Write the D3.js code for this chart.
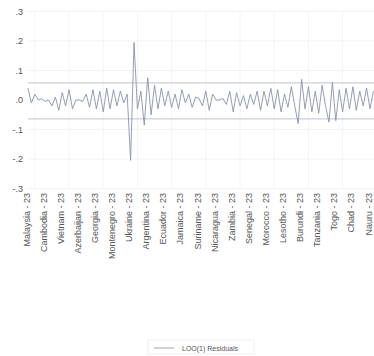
<!DOCTYPE html>
<html>
<head>
<meta charset="utf-8">
<script src="https://cdn.jsdelivr.net/npm/d3@7"></script>
<style>
  body { margin: 0; background: #fff; }
  svg text { font-family: "Liberation Sans Narrow", "Liberation Sans", Arial, sans-serif; fill: #555; }
</style>
</head>
<body>
<figure id="residPlot" style="margin:0"></figure>
<script>
// labelled categories (one every 5 observations)
const tickLabels = ["Malaysia - 23", "Cambodia - 23", "Vietnam - 23", "Azerbaijan - 23", "Georgia - 23",
  "Montenegro - 23", "Ukraine - 23", "Argentina - 23", "Ecuador - 23", "Jamaica - 23", "Suriname - 23",
  "Nicaragua - 23", "Zambia - 23", "Senegal - 23", "Morocco - 23", "Lesotho - 23", "Burundi - 23",
  "Tanzania - 23", "Togo - 23", "Chad - 23", "Nauru - 23"];
const labelStep = 5;

const residuals = [
  0.04, -0.01, 0.02, 0.0, 0.005, -0.005, 0.0, -0.02, 0.01, -0.035,
  0.025, -0.02, 0.035, -0.03, 0.0, 0.0, -0.005, 0.02, -0.025, 0.035,
  -0.03, 0.03, -0.04, 0.04, -0.03, 0.035, -0.02, 0.03, -0.01, 0.02,
  -0.205, 0.195, -0.03, 0.03, -0.085, 0.075, -0.05, 0.05, -0.03, 0.04,
  -0.02, 0.03, -0.025, 0.02, -0.03, 0.035, -0.01, 0.02, -0.025, 0.01,
  0.005, -0.02, 0.03, -0.035, 0.02, 0.0, 0.0, 0.005, -0.015, 0.03,
  -0.04, 0.025, -0.02, 0.015, -0.03, 0.02, -0.015, 0.03, -0.035, 0.03,
  -0.02, 0.04, -0.03, 0.035, -0.04, 0.02, -0.025, 0.045, -0.02, -0.08,
  0.07, -0.03, 0.045, -0.04, 0.03, -0.045, 0.05, -0.02, -0.075, 0.06,
  -0.07, 0.035, -0.04, 0.04, -0.03, 0.045, -0.035, 0.03, -0.02, 0.04,
  -0.03, 0.03
];

const bandUpper = 0.058;
const bandLower = -0.064;
const yTicks = [0.3, 0.2, 0.1, 0.0, -0.1, -0.2, -0.3];
const yTickText = [".3", ".2", ".1", ".0", "-.1", "-.2", "-.3"];
const legendText = "LOO(1) Residuals";

const width = 374, height = 356;
const svg = d3.select("#residPlot").append("svg")
  .attr("width", width).attr("height", height);

const x = d3.scaleLinear().domain([0, 100]).range([28, 370]);
const y = d3.scaleLinear().domain([-0.3, 0.3]).range([188.5, 11.5]);
const plotLeft = 28, plotRight = width;

// faint grid
const grid = svg.append("g").attr("class", "grid");
grid.selectAll("line.h")
  .data(yTicks)
  .enter().append("line")
  .attr("x1", plotLeft).attr("x2", plotRight)
  .attr("y1", d => y(d)).attr("y2", d => y(d))
  .attr("stroke", "#f2f2f2");
grid.selectAll("line.v")
  .data(d3.range(2, residuals.length, 10))
  .enter().append("line")
  .attr("x1", d => x(d)).attr("x2", d => x(d))
  .attr("y1", y(0.3)).attr("y2", y(-0.3))
  .attr("stroke", "#f4f4f4");

// y labels
svg.append("g").selectAll("text")
  .data(yTicks)
  .enter().append("text")
  .attr("x", 23)
  .attr("y", d => y(d))
  .attr("dy", "0.35em")
  .attr("text-anchor", "end")
  .attr("font-size", "9px")
  .text((d, i) => yTickText[i]);

// band lines
svg.append("g").selectAll("line")
  .data([bandUpper, bandLower])
  .enter().append("line")
  .attr("x1", plotLeft).attr("x2", plotRight)
  .attr("y1", d => y(d)).attr("y2", d => y(d))
  .attr("stroke", "#bcc3d0")
  .attr("stroke-width", 1);

// residual series
const line = d3.line().x((d, i) => x(i)).y(d => y(d));
svg.append("path")
  .datum(residuals)
  .attr("d", line)
  .attr("fill", "none")
  .attr("stroke", "#8893ab")
  .attr("stroke-width", 0.9);

// x labels
svg.append("g").selectAll("text")
  .data(tickLabels)
  .enter().append("text")
  .attr("transform", (d, i) => "translate(" + (x(i * labelStep) + 1.5) + ",193) rotate(-90)")
  .attr("text-anchor", "end")
  .attr("font-size", "9px")
  .text(d => d);

// legend
const lg = svg.append("g").attr("class", "legend");
lg.append("rect")
  .attr("x", 148).attr("y", 340).attr("width", 106).attr("height", 14)
  .attr("fill", "none").attr("stroke", "#f0f0f0");
lg.append("line")
  .attr("x1", 154).attr("x2", 174).attr("y1", 348).attr("y2", 348)
  .attr("stroke", "#9aa3b5");
lg.append("text")
  .attr("x", 182).attr("y", 350.5)
  .attr("font-size", "7px")
  .text(legendText);
</script>
</body>
</html>
